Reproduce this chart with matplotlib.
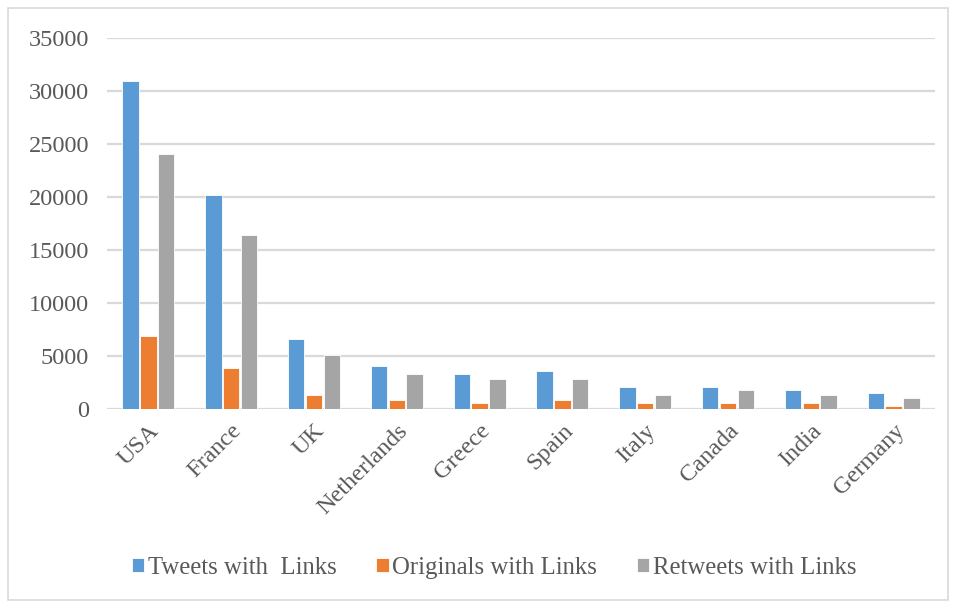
import matplotlib
matplotlib.use("Agg")
import matplotlib.pyplot as plt
import numpy as np
from matplotlib.patches import Rectangle

countries = ["USA", "France", "UK", "Netherlands", "Greece", "Spain", "Italy", "Canada", "India", "Germany"]
tweets_links = [30900, 20200, 6600, 4100, 3330, 3560, 2050, 2050, 1800, 1540]
originals_links = [6900, 3870, 1300, 820, 520, 820, 540, 540, 540, 280]
retweets_links = [24100, 16400, 5080, 3330, 2800, 2800, 1290, 1790, 1290, 1040]
series_names = ["Tweets with  Links", "Originals with Links", "Retweets with Links"]
colors = ["#5B9BD5", "#ED7D31", "#A5A5A5"]
yticks = [0, 5000, 10000, 15000, 20000, 25000, 30000, 35000]

plt.rcParams['font.family'] = ['Liberation Serif', 'DejaVu Serif']
text_color = "#595959"

fig = plt.figure(figsize=(9.56, 6.09), dpi=100)
fig.patches.append(Rectangle((8/956, 9/609), 940/956, 592/609, transform=fig.transFigure,
                             fill=False, edgecolor="#D9D9D9", linewidth=1.2))
ax = fig.add_axes([107/956, (609-409)/609, (935-107)/956, (409-38)/609])

x = np.arange(len(countries))
w = 0.2
pitch = 0.215
for i, (vals, name, c) in enumerate(zip([tweets_links, originals_links, retweets_links], series_names, colors)):
    ax.bar(x + (i - 1) * pitch, vals, width=w, color=c, edgecolor="white", linewidth=0.6, label=name, zorder=3)

ax.set_xlim(-0.5, len(countries) - 0.5)
ax.set_ylim(0, 35000)
ax.set_yticks(yticks)
ax.set_yticklabels([str(v) for v in yticks], fontsize=17.5, color=text_color)
ax.yaxis.grid(True, color="#D9D9D9", linewidth=1.6, zorder=0)
ax.set_axisbelow(True)
for s in ax.spines.values():
    s.set_visible(False)
ax.tick_params(axis='both', length=0)
ax.tick_params(axis='y', pad=13)
ax.set_xticks(x)
ax.set_xticklabels(countries, rotation=45, ha='right', va='top', rotation_mode='anchor',
                   fontsize=17.5, color=text_color)
ax.tick_params(axis='x', pad=8)

leg = fig.legend(loc='center', bbox_to_anchor=(494/956, (609-568)/609), ncol=3, frameon=False,
                 prop={'size': 17.8}, handlelength=0.5, handleheight=0.5, handletextpad=0.15,
                 columnspacing=1.6, labelcolor=text_color)

fig.savefig("out.png", dpi=100)
